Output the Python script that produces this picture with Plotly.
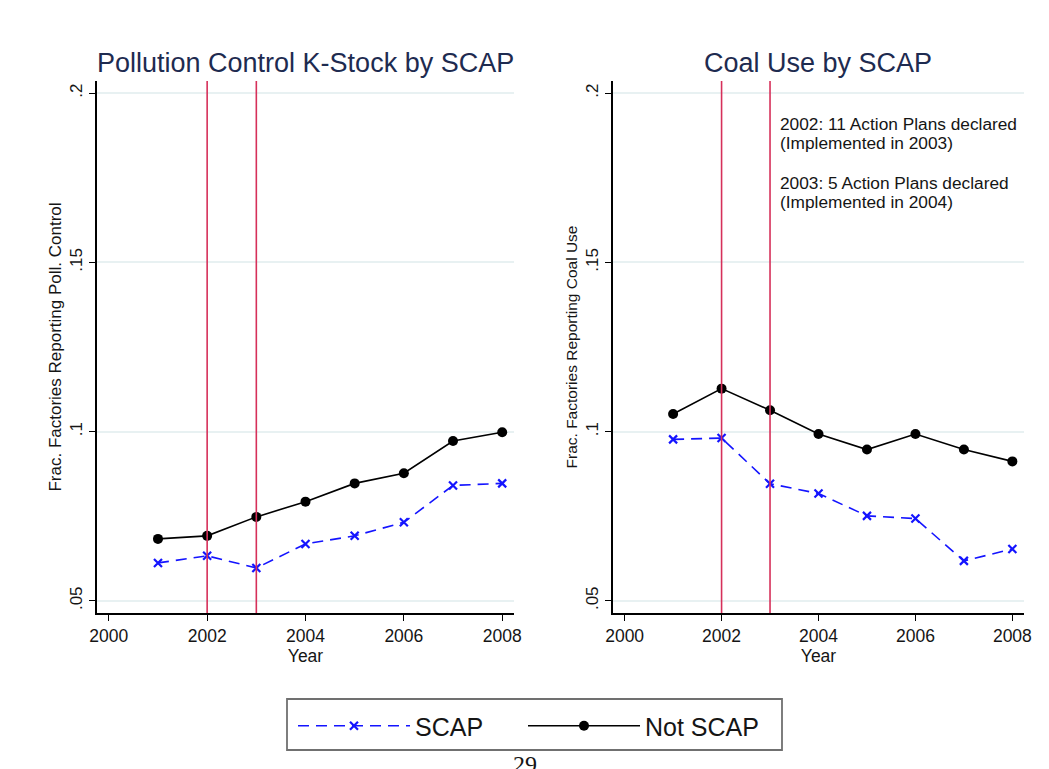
import plotly.graph_objects as go

years = [2001, 2002, 2003, 2004, 2005, 2006, 2007, 2008]
poll_not_scap = [0.0683, 0.0692, 0.0748, 0.0793, 0.0847, 0.0877, 0.0972, 0.0998]
poll_scap = [0.0612, 0.0633, 0.0597, 0.0668, 0.0692, 0.0732, 0.0841, 0.0847]
coal_not_scap = [0.1052, 0.1127, 0.1063, 0.0993, 0.0947, 0.0993, 0.0947, 0.0912]
coal_scap = [0.0977, 0.0981, 0.0846, 0.0817, 0.0751, 0.0743, 0.0618, 0.0653]
event_years = [2002, 2003]
y_ticks = [0.05, 0.1, 0.15, 0.2]
y_tick_labels = [".05", ".1", ".15", ".2"]
x_ticks = [2000, 2002, 2004, 2006, 2008]
note_lines = ["2002: 11 Action Plans declared", "(Implemented in 2003)",
              "2003: 5 Action Plans declared", "(Implemented in 2004)"]

FONT = "Liberation Sans, Arial, Helvetica, sans-serif"
BLUE = "#1414ff"
RED = "#d6305a"
TITLE_C = "#1e2b50"
TXT = "#151515"

# page has an 8px body margin; figure sized to the remaining visible area
OFF = 8
W, H = 1049 - OFF, 769 - OFF


def px(x):
    return (x - OFF) / W


def py(y):
    return 1 - (y - OFF) / H


fig = go.Figure()


def add_pair(scap, not_scap, xa, ya, show):
    fig.add_trace(go.Scatter(x=years, y=scap, xaxis=xa, yaxis=ya, name="SCAP",
                             mode="lines+markers", showlegend=show, legend="legend",
                             line=dict(color=BLUE, width=1.6, dash="11px,7px"),
                             marker=dict(symbol="x-thin", size=8, color=BLUE,
                                         line=dict(color=BLUE, width=2.2))))
    fig.add_trace(go.Scatter(x=years, y=not_scap, xaxis=xa, yaxis=ya, name="Not SCAP",
                             mode="lines+markers", showlegend=show, legend="legend2",
                             line=dict(color="black", width=1.6),
                             marker=dict(symbol="circle", size=10, color="black")))


add_pair(poll_scap, poll_not_scap, "x", "y", True)
add_pair(coal_scap, coal_not_scap, "x2", "y2", False)

ydom = [py(613), py(81)]
xaxis_common = dict(range=[1999.76, 2008.24], tickvals=x_ticks, ticks="outside", ticklen=6,
                    tickcolor="black", showline=True, linecolor="black", linewidth=1.5,
                    showgrid=False, zeroline=False, automargin=False,
                    tickfont=dict(size=17.5, color=TXT, family=FONT),
                    title=dict(text="Year", font=dict(size=17.5, color=TXT, family=FONT), standoff=2))
yaxis_common = dict(range=[0.0464, 0.2036], tickvals=y_ticks, ticktext=y_tick_labels,
                    ticks="outside", ticklen=6, tickcolor="black", tickangle=-90,
                    showline=True, linecolor="black", linewidth=1.5, automargin=False,
                    showgrid=True, gridcolor="#e8f1f2", gridwidth=1.5, zeroline=False,
                    tickfont=dict(size=17, color=TXT, family=FONT))

legend_common = dict(orientation="h", xanchor="left", y=py(726), yanchor="middle",
                     borderwidth=0, bgcolor="rgba(0,0,0,0)",
                     font=dict(size=25, color=TXT, family=FONT), itemwidth=112)

fig.update_layout(
    width=W, height=H,
    margin=dict(l=0, r=0, t=0, b=0),
    paper_bgcolor="white", plot_bgcolor="white",
    font=dict(family=FONT, color=TXT),
    xaxis=dict(domain=[px(97), px(514)], anchor="y", **xaxis_common),
    yaxis=dict(domain=ydom, anchor="x",
               title=dict(text="Frac. Factories Reporting Poll. Control",
                          font=dict(size=17, color=TXT, family=FONT), standoff=2),
               **yaxis_common),
    xaxis2=dict(domain=[px(613), px(1024)], anchor="y2", **xaxis_common),
    yaxis2=dict(domain=ydom, anchor="x2",
                title=dict(text="Frac. Factories Reporting Coal Use",
                           font=dict(size=15.5, color=TXT, family=FONT), standoff=2),
                **yaxis_common),
    legend=dict(x=px(293), **legend_common),
    legend2=dict(x=px(523), **legend_common),
)

# legend frame
fig.add_shape(type="rect", xref="paper", yref="paper",
              x0=px(287), x1=px(782), y0=py(750), y1=py(699),
              line=dict(color="#707070", width=1.8), fillcolor="rgba(0,0,0,0)", layer="below")

for xr, yr in [("x", "y domain"), ("x2", "y2 domain")]:
    for ev in event_years:
        fig.add_shape(type="line", xref=xr, yref=yr, x0=ev, x1=ev, y0=0, y1=1,
                      line=dict(color=RED, width=1.6), layer="above")

fig.add_annotation(text="Pollution Control K-Stock by SCAP", xref="paper", yref="paper",
                   x=px(305.5), y=py(63), xanchor="center", yanchor="middle", showarrow=False,
                   font=dict(size=27, color=TITLE_C, family=FONT))
fig.add_annotation(text="Coal Use by SCAP", xref="paper", yref="paper",
                   x=px(818), y=py(63), xanchor="center", yanchor="middle", showarrow=False,
                   font=dict(size=27, color=TITLE_C, family=FONT))
for line, yc in zip(note_lines, [124, 143, 183, 202]):
    fig.add_annotation(text=line, xref="paper", yref="paper", x=px(778), y=py(yc),
                       xanchor="left", yanchor="middle", align="left", showarrow=False,
                       font=dict(size=17.3, color=TXT, family=FONT))
fig.add_annotation(text="29", xref="paper", yref="paper", x=px(525), y=py(749),
                   xanchor="center", yanchor="top", showarrow=False,
                   font=dict(size=24, color=TXT, family="Liberation Serif, serif"))

fig.write_html("out.html")
